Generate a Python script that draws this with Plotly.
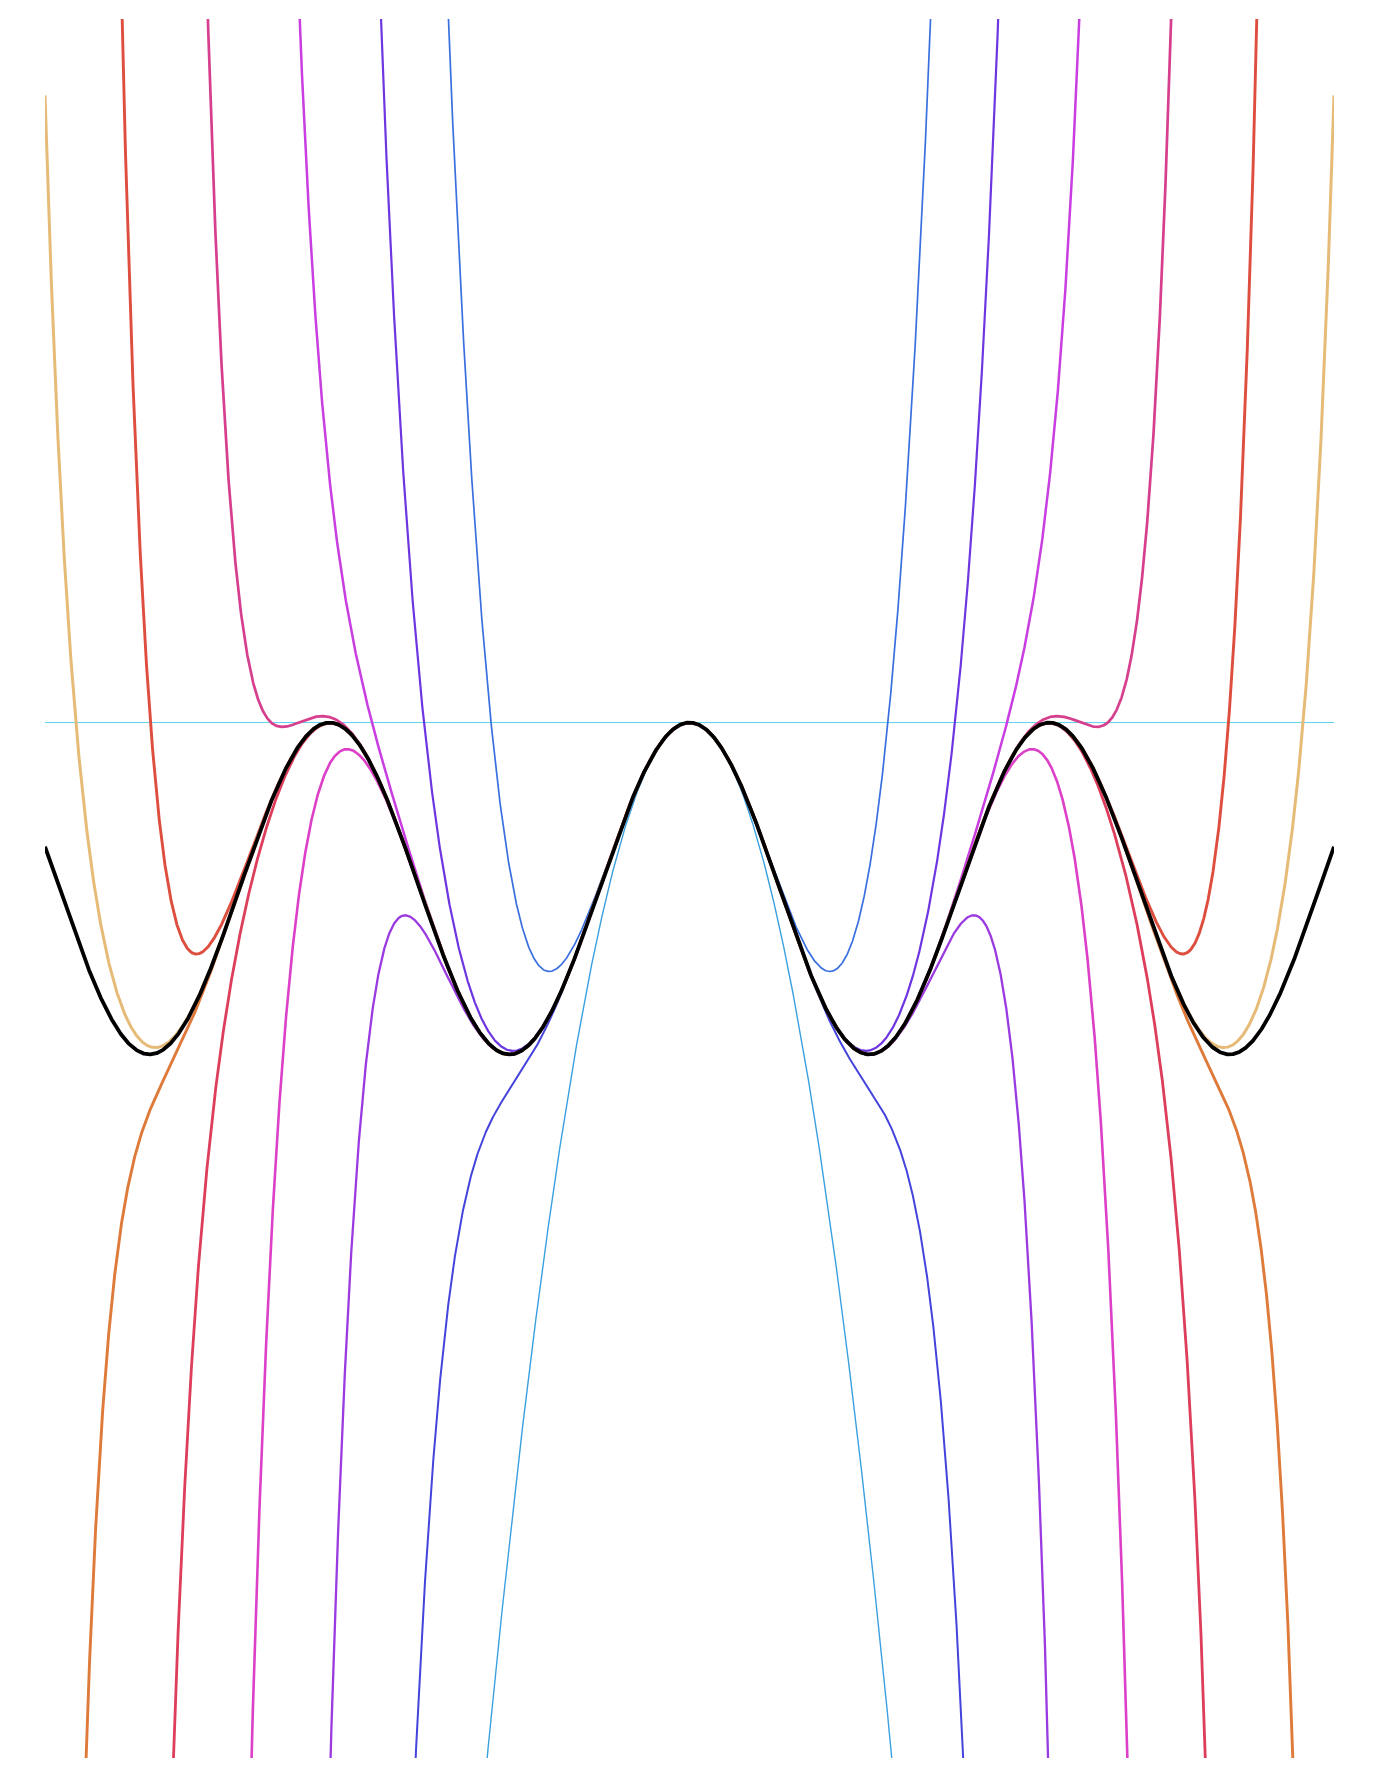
import numpy as np
import plotly.graph_objects as go
from math import factorial

# Taylor polynomial degrees of cos(x) shown, with their colours and widths
degrees = [0, 2, 4, 6, 8, 10, 12, 14, 16, 18, 20, 22, 24]
colors = ["#5cd3ec", "#3aa0e0", "#3a6fe0", "#4444dd", "#6e36e0", "#9a3ae0",
          "#c83ee0", "#dc40c8", "#d63f8e", "#dc3e5c", "#de4e3e", "#de7a3a", "#e6bb78"]
widths = [1.0, 1.4, 1.7, 2.0, 2.2, 2.3, 2.5, 2.6, 2.7, 2.8, 2.9, 2.9, 3.0]

x_min, x_max = -11.25, 11.25
y_min, y_max = -5.24, 5.24

x = np.linspace(x_min, x_max, 6001)

def taylor_cos(xv, n):
    s = np.zeros_like(xv)
    for k in range(0, n + 1, 2):
        s += (-1) ** (k // 2) * xv ** k / factorial(k)
    return s

fig = go.Figure()
for d, c, w in zip(degrees, colors, widths):
    y = np.clip(taylor_cos(x, d), -60, 60)
    fig.add_trace(go.Scatter(x=x, y=y, mode="lines",
                             line=dict(color=c, width=w), hoverinfo="skip"))

fig.add_trace(go.Scatter(x=x, y=np.cos(x), mode="lines",
                         line=dict(color="#000000", width=3.8), hoverinfo="skip"))

fig.update_layout(
    width=1364, height=1763,
    margin=dict(l=37, r=38, t=11, b=13),
    paper_bgcolor="white", plot_bgcolor="white",
    showlegend=False,
    xaxis=dict(range=[x_min, x_max], visible=False),
    yaxis=dict(range=[y_min, y_max], visible=False),
)
fig.write_html("out.html")
